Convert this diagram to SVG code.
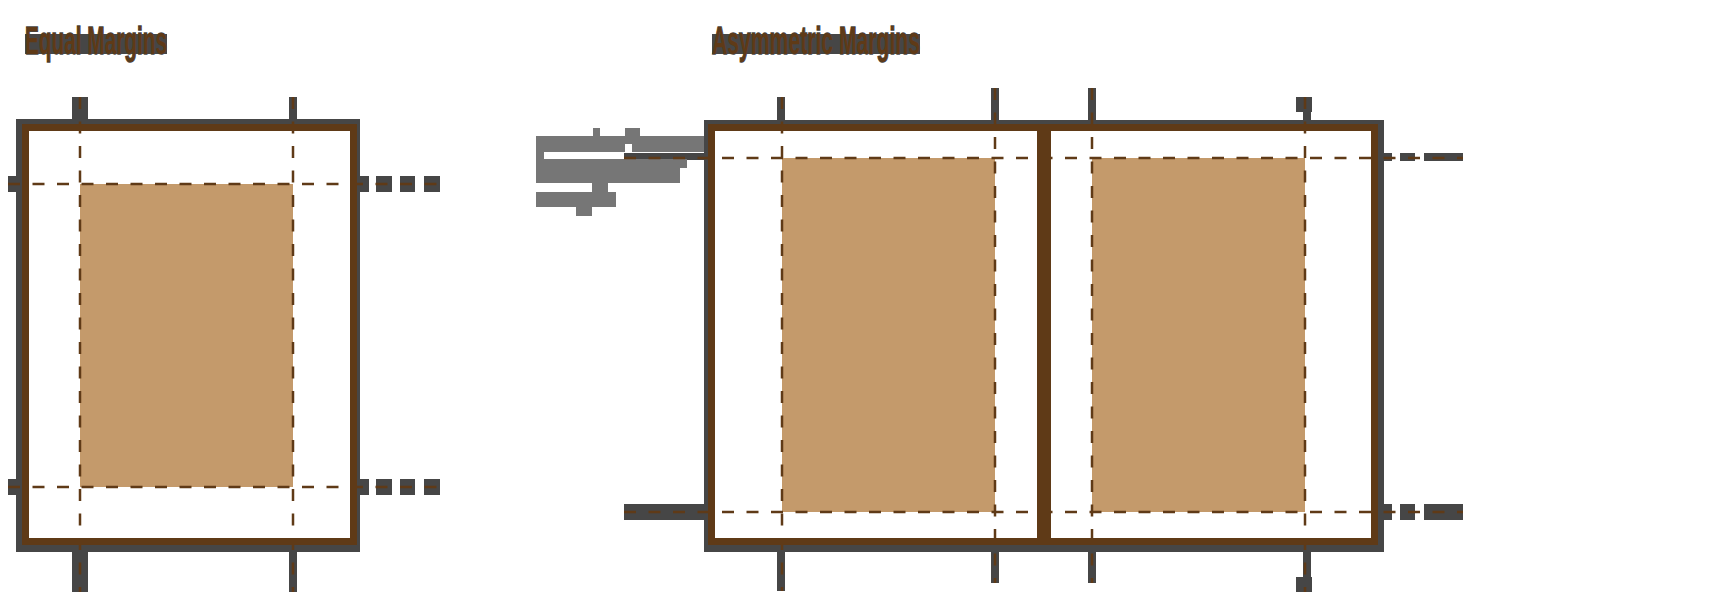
<svg xmlns="http://www.w3.org/2000/svg" width="1713" height="597" viewBox="0 0 1713 597">
<style>
.shadow{fill:none;stroke:#464646;stroke-width:8}
.page{fill:#ffffff;stroke:#5F3A17;stroke-width:7}
.content{fill:#C49A6B}
.guide{stroke:#5F3A17;stroke-width:2.5;stroke-dasharray:12 12.5;fill:none}
.tk{fill:#464646}
.blk{fill:#767676}
.title{font-family:"Liberation Sans Narrow","Liberation Sans",Arial,sans-serif;font-weight:bold;font-size:38px;fill:#5F3A17;stroke:#464646;stroke-width:1.5;paint-order:stroke}
.tbg{fill:#464646}
</style>
<rect width="1713" height="597" fill="#ffffff"/>

<g id="title-equal">
<rect class="tbg" x="25" y="34" width="142" height="20"/>
<text class="title" x="25" y="54" textLength="142" lengthAdjust="spacingAndGlyphs">Equal Margins</text>
</g>
<g id="title-asym">
<rect class="tbg" x="712" y="34" width="208" height="20"/>
<text class="title" x="712" y="54" textLength="208" lengthAdjust="spacingAndGlyphs">Asymmetric Margins</text>
</g>

<g id="ticks">
<rect class="tk" x="72" y="97" width="16" height="23"/>
<rect class="tk" x="72" y="552" width="16" height="40"/>
<rect class="tk" x="289" y="97" width="8" height="23"/>
<rect class="tk" x="289" y="552" width="8" height="40"/>
<rect class="tk" x="8" y="176" width="9" height="16"/>
<rect class="tk" x="8" y="479" width="9" height="16"/>
<rect class="tk" x="356" y="176" width="13" height="16"/>
<rect class="tk" x="376" y="176" width="16" height="16"/>
<rect class="tk" x="400" y="176" width="15" height="16"/>
<rect class="tk" x="424" y="176" width="16" height="16"/>
<rect class="tk" x="356" y="479" width="13" height="16"/>
<rect class="tk" x="376" y="479" width="16" height="16"/>
<rect class="tk" x="400" y="479" width="15" height="16"/>
<rect class="tk" x="424" y="479" width="16" height="16"/>
<rect class="tk" x="777" y="97" width="8" height="23"/>
<rect class="tk" x="777" y="552" width="8" height="39"/>
<rect class="tk" x="991" y="88" width="8" height="32"/>
<rect class="tk" x="991" y="552" width="8" height="31"/>
<rect class="tk" x="1088" y="88" width="8" height="32"/>
<rect class="tk" x="1088" y="552" width="8" height="31"/>
<rect class="tk" x="1296" y="97" width="16" height="15"/>
<rect class="tk" x="1303" y="112" width="8" height="8"/>
<rect class="tk" x="1303" y="545" width="8" height="32"/>
<rect class="tk" x="1296" y="577" width="16" height="15"/>
<rect class="tk" x="624" y="153" width="81" height="7"/>
<rect class="tk" x="624" y="504" width="81" height="16"/>
<rect class="tk" x="1380" y="153" width="12" height="8"/>
<rect class="tk" x="1400" y="153" width="15" height="8"/>
<rect class="tk" x="1424" y="153" width="39" height="8"/>
<rect class="tk" x="1380" y="504" width="12" height="16"/>
<rect class="tk" x="1400" y="504" width="15" height="16"/>
<rect class="tk" x="1424" y="504" width="39" height="16"/>
</g>

<g id="label-block">
<rect class="blk" x="593" y="128" width="7" height="8"/>
<rect class="blk" x="625" y="128" width="15" height="8"/>
<rect class="blk" x="536" y="136" width="168" height="16"/>
<rect x="625" y="144" width="7" height="8" fill="#ffffff"/>
<rect class="blk" x="536" y="152" width="8" height="7"/>
<rect class="blk" x="536" y="159" width="151" height="9"/>
<rect class="blk" x="536" y="168" width="144" height="15"/>
<rect class="blk" x="592" y="183" width="16" height="9"/>
<rect class="blk" x="536" y="192" width="80" height="15"/>
<rect class="blk" x="576" y="207" width="16" height="9"/>
</g>

<g id="page-equal">
<rect class="shadow" x="20" y="123" width="336" height="425"/>
<rect class="page" x="25.5" y="127.5" width="328" height="414"/>
<rect class="content" x="80" y="184" width="213" height="303"/>
</g>

<g id="spread-asym">
<rect class="shadow" x="708" y="124" width="672" height="424"/>
<rect class="page" x="711.5" y="127.5" width="663" height="414"/>
<rect class="content" x="782" y="158" width="213" height="354"/>
<rect class="content" x="1092" y="158" width="213" height="354"/>
</g>

<g id="guides">
<line class="guide" x1="80" y1="97" x2="80" y2="592"/>
<line class="guide" x1="293" y1="97" x2="293" y2="592"/>
<line class="guide" x1="8" y1="184" x2="440" y2="184"/>
<line class="guide" x1="8" y1="487" x2="440" y2="487"/>
<line class="guide" x1="782" y1="97" x2="782" y2="591"/>
<line class="guide" x1="995" y1="88" x2="995" y2="583"/>
<line class="guide" x1="1092" y1="88" x2="1092" y2="583"/>
<line class="guide" x1="1305" y1="97" x2="1305" y2="592"/>
<line class="guide" x1="624" y1="158" x2="1463" y2="158"/>
<line class="guide" x1="624" y1="512" x2="1463" y2="512"/>
</g>

<g id="frames">
<rect x="25.5" y="127.5" width="328" height="414" fill="none" stroke="#5F3A17" stroke-width="7"/>
<rect x="711.5" y="127.5" width="663" height="414" fill="none" stroke="#5F3A17" stroke-width="7"/>
<rect id="spine" x="1037" y="124" width="14" height="421" fill="#5F3A17"/>
</g>
</svg>
